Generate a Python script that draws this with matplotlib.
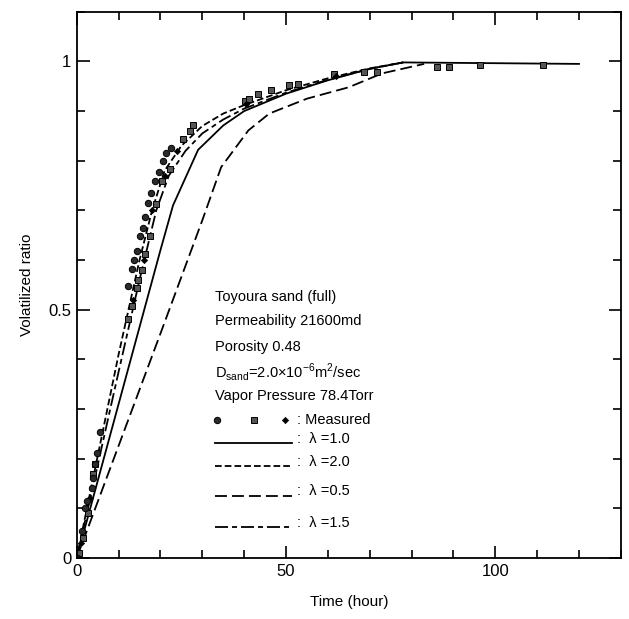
import matplotlib.pyplot as plt
from matplotlib.ticker import MultipleLocator, FixedLocator

plt.rcParams["font.family"] = ["Liberation Sans", "DejaVu Sans"]

# model curves (time in hours, volatilized ratio)
L10_T = [0, 5, 10, 15, 20, 23, 29, 35, 40, 50, 60, 70, 78, 120]
L10_V = [0, 0.155, 0.31, 0.465, 0.62, 0.71, 0.822, 0.871, 0.90, 0.935, 0.962, 0.985, 0.998, 0.995]

L20_T = [0, 5, 10, 15, 18, 21, 25, 30, 35, 40, 50, 60, 70, 78]
L20_V = [0, 0.205, 0.41, 0.60, 0.70, 0.78, 0.83, 0.87, 0.895, 0.912, 0.942, 0.966, 0.986, 0.998]

L05_T = [0, 10, 20, 30, 34.5, 41, 46, 55, 65, 73, 83]
L05_V = [0, 0.226, 0.452, 0.68, 0.787, 0.861, 0.895, 0.925, 0.948, 0.976, 0.995]

L15_T = [0, 5, 10, 15, 19, 22, 26, 30, 35, 40, 50, 60, 70, 78]
L15_V = [0, 0.187, 0.375, 0.56, 0.70, 0.77, 0.82, 0.855, 0.883, 0.905, 0.937, 0.963, 0.985, 0.998]

# measured points, three runs
RUN1_T = [0, 1.2, 2.0, 2.4, 3.6, 3.9, 4.4, 4.8, 5.6, 12.3, 13.1, 13.8, 14.4, 15.1,
          15.8, 16.3, 17.0, 17.8, 18.6, 19.6, 20.6, 21.4, 22.6]
RUN1_V = [0, 0.054, 0.101, 0.115, 0.142, 0.162, 0.189, 0.212, 0.253, 0.548, 0.582,
          0.600, 0.618, 0.649, 0.665, 0.686, 0.715, 0.735, 0.76, 0.777, 0.799, 0.815, 0.826]

RUN2_T = [0.5, 1.5, 2.8, 4.0, 4.4, 12.3, 13.1, 14.3, 14.7, 15.5, 16.3, 17.5, 19.0,
          20.3, 22.2, 25.4, 27.0, 27.8, 40.1, 41.2, 43.2, 46.4, 50.8, 52.8, 61.5,
          68.6, 71.8, 86.1, 88.9, 96.4, 111.4]
RUN2_V = [0.01, 0.04, 0.09, 0.17, 0.19, 0.482, 0.508, 0.544, 0.56, 0.579, 0.612,
          0.649, 0.713, 0.76, 0.784, 0.844, 0.86, 0.871, 0.921, 0.925, 0.935, 0.942,
          0.952, 0.955, 0.975, 0.978, 0.978, 0.989, 0.989, 0.992, 0.992]

RUN3_T = [1.0, 3.2, 13.5, 16.0, 18.0, 21.0, 24.0, 40.5, 62.0]
RUN3_V = [0.03, 0.12, 0.52, 0.60, 0.70, 0.77, 0.82, 0.915, 0.970]

INFO = [
    "Toyoura sand (full)",
    "Permeability 21600md",
    "Porosity 0.48",
    r"D$_{\mathregular{sand}}$=2.0$\mathregular{\times}$10$^{\mathregular{-6}}$m$^{\mathregular{2}}$/sec",
    "Vapor Pressure 78.4Torr",
]
LEGEND_LABELS = [": Measured", ":  \u03bb =1.0", ":  \u03bb =2.0", ":  \u03bb =0.5", ":  \u03bb =1.5"]

LW = 1.3
STYLES = {
    "l10": dict(linestyle="-"),
    "l20": dict(dashes=(3.7, 1.7)),
    "l05": dict(dashes=(6.6, 2.8)),
    "l15": dict(dashes=(7.2, 2.2, 2.8, 2.2)),
}

fig = plt.figure(figsize=(6.29, 6.19), dpi=100)
ax = fig.add_axes([0.122, 0.0985, 0.865, 0.8825])

ax.plot(L10_T, L10_V, color="black", lw=LW, **STYLES["l10"])
ax.plot(L20_T, L20_V, color="black", lw=LW, **STYLES["l20"])
ax.plot(L05_T, L05_V, color="black", lw=LW, **STYLES["l05"])
ax.plot(L15_T, L15_V, color="black", lw=LW, **STYLES["l15"])

mk1 = dict(marker="o", ms=4.6, mfc="#2a2a2a", mec="black", mew=0.7, ls="none")
mk2 = dict(marker="s", ms=4.6, mfc="#555555", mec="black", mew=0.7, ls="none")
mk3 = dict(marker="D", ms=3.2, mfc="black", mec="black", mew=0.5, ls="none")
ax.plot(RUN2_T, RUN2_V, **mk2)
ax.plot(RUN3_T, RUN3_V, **mk3)
ax.plot(RUN1_T, RUN1_V, **mk1)

ax.set_xlim(0, 130)
ax.set_ylim(0, 1.1)
ax.xaxis.set_major_locator(FixedLocator([0, 50, 100]))
ax.xaxis.set_minor_locator(MultipleLocator(10))
ax.yaxis.set_major_locator(FixedLocator([0, 0.5, 1]))
ax.yaxis.set_minor_locator(MultipleLocator(0.1))
ax.set_xticklabels(["0", "50", "100"])
ax.set_yticklabels(["0", "0.5", "1"])
ax.tick_params(which="both", direction="in", top=True, right=True, width=1.2,
               labelsize=12, pad=4)
ax.tick_params(which="major", length=9)
ax.tick_params(which="minor", length=6)
for sp in ax.spines.values():
    sp.set_linewidth(1.3)

ax.set_xlabel("Time (hour)", fontsize=11, labelpad=12)
ax.set_ylabel("Volatilized ratio", fontsize=11, labelpad=10)

# annotation block
tx = 0.2535
text_y = [0.477, 0.433, 0.387, 0.341, 0.297]
for s, yy in zip(INFO, text_y):
    ax.text(tx, yy, s, transform=ax.transAxes, fontsize=10.5, va="center")

leg_y = [0.253, 0.218, 0.176, 0.122, 0.065]
lab_x = 0.405
ax.text(lab_x, leg_y[0], LEGEND_LABELS[0], transform=ax.transAxes, fontsize=10.5, va="center")
ax.plot([0.257], [leg_y[0]], transform=ax.transAxes, **mk1)
ax.plot([0.325], [leg_y[0]], transform=ax.transAxes, **mk2)
ax.plot([0.382], [leg_y[0]], transform=ax.transAxes, **mk3)
for key, lab, yy in zip(["l10", "l20", "l05", "l15"], LEGEND_LABELS[1:], leg_y[1:]):
    ax.plot([0.2535, 0.395], [yy - 0.008, yy - 0.008], transform=ax.transAxes,
            color="black", lw=LW, **STYLES[key])
    ax.text(lab_x, yy, lab, transform=ax.transAxes, fontsize=10.5, va="center")

fig.savefig("out.png", dpi=100)
